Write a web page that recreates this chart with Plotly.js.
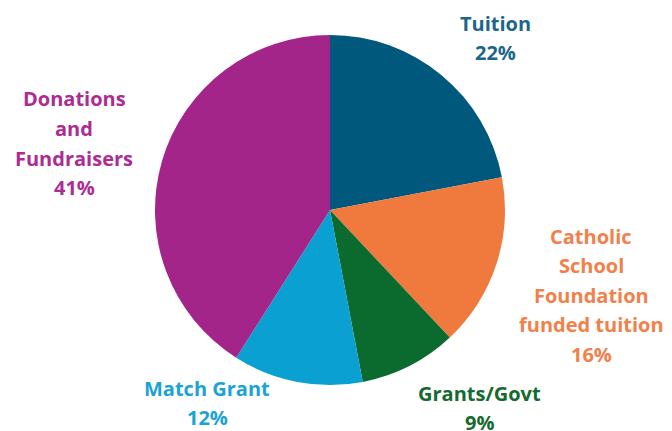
<!DOCTYPE html>
<html>
<head>
<meta charset="utf-8">
<script src="https://cdn.plot.ly/plotly-3.0.1.min.js"></script>
<style>html,body{margin:0;padding:0;background:#fff}#chart{width:672px;height:431px}</style>
</head>
<body>
<div id="chart"></div>
<script>
// Data
const categories = ['Tuition', 'Catholic School Foundation funded tuition', 'Grants/Govt', 'Match Grant', 'Donations and Fundraisers'];
const shares = [22, 16, 9, 12, 41];
const labelLines = [['Tuition'], ['Catholic', 'School', 'Foundation', 'funded tuition'], ['Grants/Govt'], ['Match Grant'], ['Donations', 'and', 'Fundraisers']];

// Styles / positions (not data)
const sliceColors = ['#00587c', '#f07a3d', '#0b6a2e', '#0aa0d2', '#a4258a'];
const textColors = ['#1c668a', '#f2804a', '#146a2f', '#1ba3d5', '#ad2c94'];
const labelAnchor = [[495, 23], [591, 236], [479, 393], [207, 388], [74, 99]]; // pixel centres of first line
const lineGap = 29.5;
const W = 672, H = 431;

const annotations = [];
categories.forEach((c, i) => {
  const lines = labelLines[i].concat([shares[i] + '%']);
  lines.forEach((t, j) => {
    annotations.push({
      text: t,
      x: labelAnchor[i][0] / W,
      y: 1 - (labelAnchor[i][1] + j * lineGap) / H,
      xref: 'paper', yref: 'paper',
      xanchor: 'center', yanchor: 'middle',
      showarrow: false,
      font: {family: 'Open Sans, sans-serif', size: 20, weight: 700, color: textColors[i]}
    });
  });
});

const cx = 330, cy = 210, r = 175;
const trace = {
  type: 'pie',
  labels: categories,
  values: shares,
  sort: false,
  direction: 'clockwise',
  rotation: 0,
  textinfo: 'none',
  hoverinfo: 'label+percent',
  marker: {colors: sliceColors, line: {color: '#ffffff', width: 0}},
  domain: {x: [(cx - r) / W, (cx + r) / W], y: [1 - (cy + r) / H, 1 - (cy - r) / H]},
  showlegend: false
};

Plotly.newPlot('chart', [trace], {
  width: W, height: H,
  margin: {l: 0, r: 0, t: 0, b: 0},
  paper_bgcolor: '#ffffff',
  showlegend: false,
  annotations: annotations
}, {displayModeBar: false, staticPlot: true});
</script>
</body>
</html>
